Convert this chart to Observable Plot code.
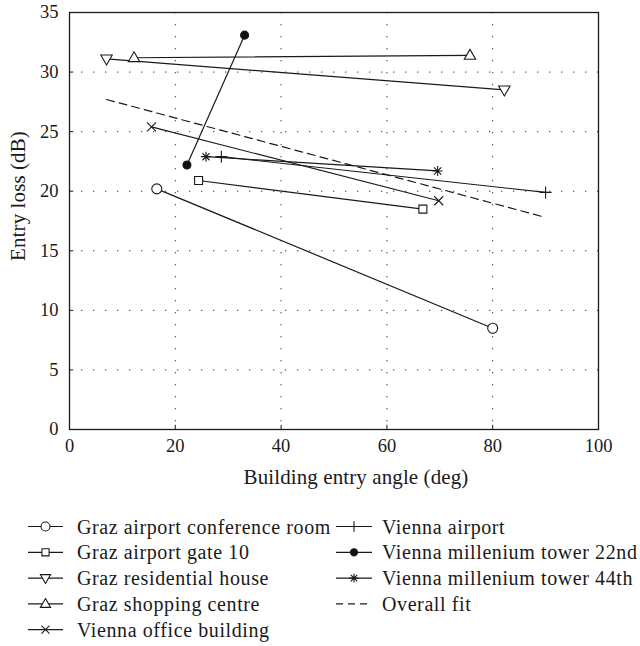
<!DOCTYPE html>
<html>
<head>
<meta charset="utf-8">
<script src="https://cdn.jsdelivr.net/npm/d3@7"></script>
<script src="https://cdn.jsdelivr.net/npm/@observablehq/plot@0.6"></script>
<style>
  html, body { margin: 0; padding: 0; background: #fff; }
  #chart svg { display: block; }
  #legend { display: block; }
  svg, svg text { font-family: "Liberation Serif", "DejaVu Serif", "Times New Roman", serif !important; }
</style>
</head>
<body>
<div id="chart"></div>
<script>
// ---- data ----
const seriesNames = [
  "Graz airport conference room",
  "Graz airport gate 10",
  "Graz residential house",
  "Graz shopping centre",
  "Vienna office building",
  "Vienna airport",
  "Vienna millenium tower 22nd",
  "Vienna millenium tower 44th"
];
const angles = [
  [16.5, 80.0],
  [24.4, 66.8],
  [7.0, 82.2],
  [12.2, 75.7],
  [15.5, 69.8],
  [28.7, 90.0],
  [22.2, 33.1],
  [25.8, 69.6]
];
const losses = [
  [20.2, 8.5],
  [20.9, 18.5],
  [31.1, 28.5],
  [31.2, 31.4],
  [25.4, 19.2],
  [22.9, 19.9],
  [22.2, 33.1],
  [22.9, 21.7]
];
const fitName = "Overall fit";
const fitAngles = [7.0, 90.0];
const fitLosses = [27.7, 17.8];
const xTicks = [0, 20, 40, 60, 80, 100];
const yTicks = [0, 5, 10, 15, 20, 25, 30, 35];
const xLabel = "Building entry angle (deg)";
const yLabel = "Entry loss (dB)";

// ---- marker shapes ----
const rOf = size => Math.sqrt(size / Math.PI);
const symSquare = { draw(c, s) { const r = rOf(s); c.rect(-r, -r, 2 * r, 2 * r); } };
const symTriUp = { draw(c, s) { const r = rOf(s); c.moveTo(0, -r); c.lineTo(r * 0.95, r * 0.65); c.lineTo(-r * 0.95, r * 0.65); c.closePath(); } };
const symTriDown = { draw(c, s) { const r = rOf(s); c.moveTo(0, r); c.lineTo(r * 0.95, -r * 0.65); c.lineTo(-r * 0.95, -r * 0.65); c.closePath(); } };
const symTimes = { draw(c, s) { const r = rOf(s); c.moveTo(-r, -r); c.lineTo(r, r); c.moveTo(-r, r); c.lineTo(r, -r); } };
const symPlus = { draw(c, s) { const r = rOf(s); c.moveTo(-r, 0); c.lineTo(r, 0); c.moveTo(0, -r); c.lineTo(0, r); } };
const symAst = { draw(c, s) { const r = rOf(s); const q = r * 0.72; c.moveTo(-r, 0); c.lineTo(r, 0); c.moveTo(0, -r); c.lineTo(0, r); c.moveTo(-q, -q); c.lineTo(q, q); c.moveTo(-q, q); c.lineTo(q, -q); } };
const symCircle = { draw(c, s) { const r = rOf(s); c.moveTo(r, 0); c.arc(0, 0, r, 0, 2 * Math.PI); } };

const styles = {
  "Graz airport conference room": { symbol: symCircle, r: 5, fill: "white" },
  "Graz airport gate 10": { symbol: symSquare, r: 4, fill: "white" },
  "Graz residential house": { symbol: symTriDown, r: 6, fill: "white" },
  "Graz shopping centre": { symbol: symTriUp, r: 6, fill: "white" },
  "Vienna office building": { symbol: symTimes, r: 4.5, fill: "none" },
  "Vienna airport": { symbol: symPlus, r: 6, fill: "none" },
  "Vienna millenium tower 22nd": { symbol: symCircle, r: 4, fill: "#111" },
  "Vienna millenium tower 44th": { symbol: symAst, r: 5, fill: "none" }
};

const rows = seriesNames.flatMap((name, i) =>
  angles[i].map((a, j) => ({ series: name, angle: a, loss: losses[i][j] })));
const fitRows = fitAngles.map((a, j) => ({ angle: a, loss: fitLosses[j] }));

const ink = "#1a1a1a";
const font = "Liberation Serif, DejaVu Serif, serif";

const chart = Plot.plot({
  width: 640,
  height: 500,
  marginLeft: 69,
  marginRight: 42,
  marginTop: 12,
  marginBottom: 71,
  x: { domain: [0, 100] },
  y: { domain: [0, 35] },
  style: { fontFamily: font, fontSize: "18.5px", color: ink, background: "white" },
  marks: [
    Plot.gridX(xTicks.slice(1, -1), { stroke: "#333", strokeOpacity: 1, strokeWidth: 1, strokeDasharray: "1.3,10.7" }),
    Plot.gridY(yTicks.slice(1, -1), { stroke: "#333", strokeOpacity: 1, strokeWidth: 1, strokeDasharray: "1.3,10.7" }),
    Plot.ruleX(xTicks, { x: d => d, y1: 0, y2: 0.35, stroke: ink, strokeWidth: 1 }),
    Plot.ruleY(yTicks, { y: d => d, x1: 0, x2: 0.8, stroke: ink, strokeWidth: 1 }),
    Plot.axisX(xTicks, { tickSize: 0, tickPadding: 9, label: null, fontSize: 18.5 }),
    Plot.axisY(yTicks, { tickSize: 0, tickPadding: 11, label: null, fontSize: 18.5 }),
    Plot.line(fitRows, { x: "angle", y: "loss", stroke: ink, strokeWidth: 1.2, strokeDasharray: "8,5" }),
    Plot.line(rows, { x: "angle", y: "loss", z: "series", stroke: ink, strokeWidth: 1.2 }),
    ...seriesNames.map(name => {
      const st = styles[name];
      return Plot.dot(rows.filter(d => d.series === name), {
        x: "angle", y: "loss", symbol: st.symbol, r: st.r,
        fill: st.fill, stroke: ink, strokeWidth: 1.1
      });
    }),
    Plot.frame({ stroke: ink, strokeWidth: 1.3 }),
    Plot.text([xLabel], { text: d => d, frameAnchor: "bottom", textAnchor: "middle", lineAnchor: "middle", dx: 22, dy: 48, fontSize: 21, fill: ink, className: "axis-title" }),
    Plot.text([yLabel], { text: d => d, frameAnchor: "left", textAnchor: "middle", lineAnchor: "middle", rotate: -90, dx: -51, dy: -25, fontSize: 21, fill: ink, className: "axis-title" })
  ]
});
d3.select(chart).selectAll(".axis-title text").style("letter-spacing", "0.1px");
document.getElementById("chart").appendChild(chart);

// ---- legend below the plot ----
const legendEntries = [
  ...seriesNames.slice(0, 5).map((n, i) => ({ name: n, col: 0, row: i })),
  ...seriesNames.slice(5).map((n, i) => ({ name: n, col: 1, row: i })),
  { name: fitName, col: 1, row: 3 }
];
const colX = [{ l0: 28, l1: 63, m: 45.5, t: 77 }, { l0: 336, l1: 372, m: 354, t: 382 }];
const rowY = i => 26.5 + i * 25.8;

const lg = d3.select("body").append("svg")
  .attr("id", "legend").attr("width", 640).attr("height", 146)
  .style("font-size", "20px").style("letter-spacing", "0.6px");
legendEntries.forEach(e => {
  const c = colX[e.col], y = rowY(e.row);
  const g = lg.append("g");
  const isFit = e.name === fitName;
  g.append("line").attr("x1", c.l0).attr("x2", c.l1).attr("y1", y).attr("y2", y)
    .attr("stroke", ink).attr("stroke-width", 1.2)
    .attr("stroke-dasharray", isFit ? "7,5" : null);
  if (!isFit) {
    const st = styles[e.name];
    g.append("path")
      .attr("transform", `translate(${c.m},${y})`)
      .attr("d", d3.symbol().type(st.symbol).size(st.r * st.r * Math.PI * 0.8)())
      .attr("fill", st.fill).attr("stroke", ink).attr("stroke-width", 1.1);
  }
  g.append("text").attr("x", c.t).attr("y", y).attr("dy", "0.35em")
    .attr("fill", ink).text(e.name);
});
</script>
</body>
</html>
